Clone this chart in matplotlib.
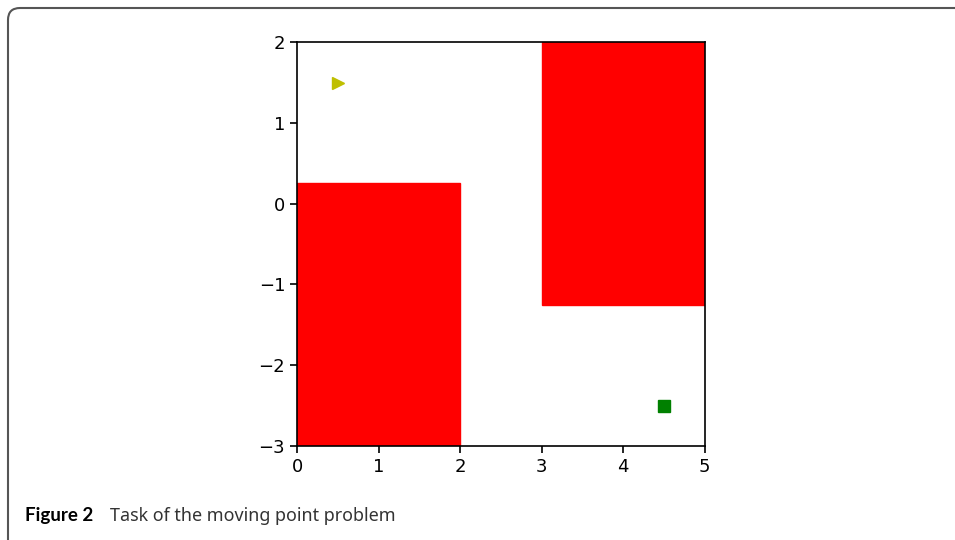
import matplotlib
matplotlib.use("Agg")
from matplotlib import pyplot as plt
from matplotlib.patches import Rectangle, FancyBboxPatch
from matplotlib.transforms import IdentityTransform

# obstacles: (x, y, width, height)
obstacles = [(0, -3, 2, 3.25), (3, -1.25, 2, 3.25)]
start_point = (0.5, 1.5)
goal_point = (4.5, -2.5)
x_ticks = [0, 1, 2, 3, 4, 5]
y_ticks = [-3, -2, -1, 0, 1, 2]

fig = plt.figure(figsize=(9.55, 5.4), dpi=100)
ax = fig.add_axes([0.311, 0.174, 0.427, 0.748])

for x, y, w, h in obstacles:
    ax.add_patch(Rectangle((x, y), w, h, color="red", zorder=1))

ax.plot(*start_point, marker=">", color="y", markersize=9, zorder=3)
ax.plot(*goal_point, marker="s", color="g", markersize=9, zorder=3)

ax.set_xlim(0, 5)
ax.set_ylim(-3, 2)
ax.set_xticks(x_ticks)
ax.set_yticks(y_ticks)
ax.tick_params(labelsize=13, length=5, width=1.2)
for spine in ax.spines.values():
    spine.set_linewidth(1.2)

# rounded frame around the figure (pixel coordinates)
frame = FancyBboxPatch((8, -60), 1100, 592, boxstyle="round,pad=0,rounding_size=12",
                       transform=IdentityTransform(), fill=False, edgecolor="#555555",
                       linewidth=1.5)
fig.patches.append(frame)

fig.text(25 / 955, 1 - 521 / 540, "Figure 2", fontfamily="Lato", fontweight="bold",
         fontsize=13.5, color="black", va="baseline")
fig.text(110 / 955, 1 - 521 / 540, "Task of the moving point problem", fontfamily="Noto Sans",
         fontsize=12.9, color="#333333", va="baseline")

fig.savefig("out.png", dpi=100)
